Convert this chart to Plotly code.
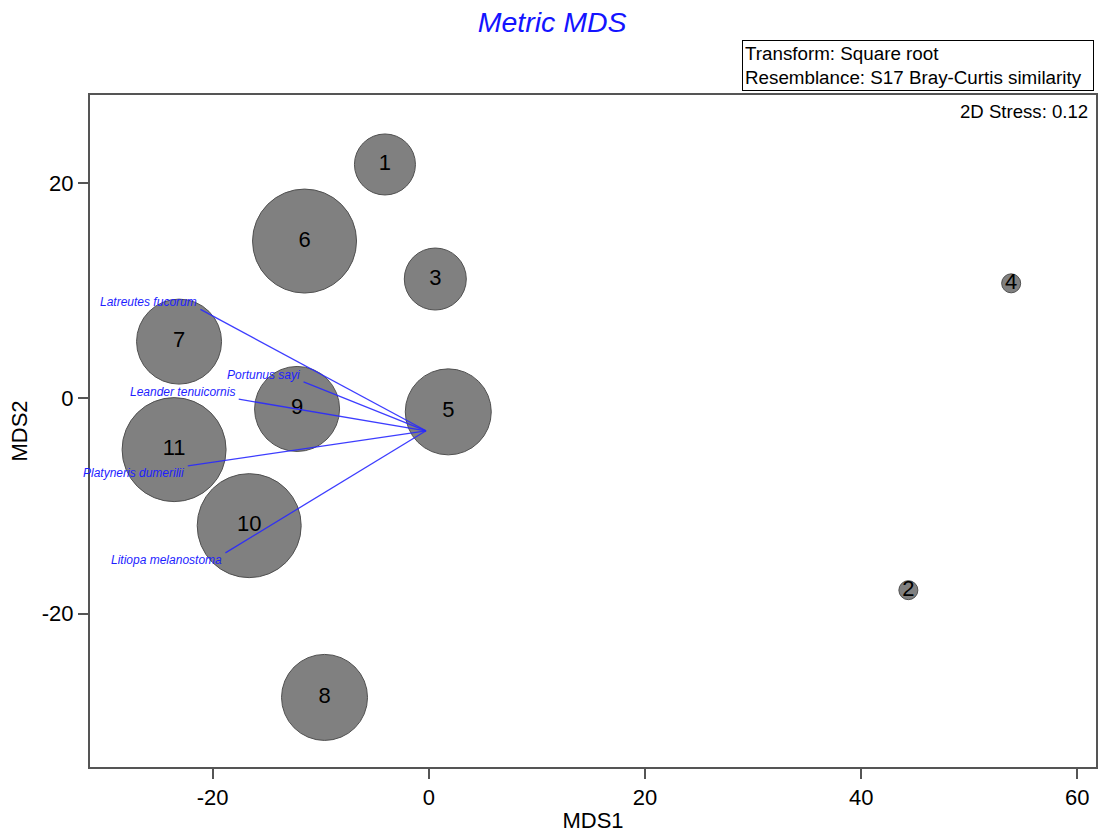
import plotly.graph_objects as go

# Sample scores
samples = ["1", "2", "3", "4", "5", "6", "7", "8", "9", "10", "11"]
mds1 = [-4.06, 44.37, 0.6, 53.88, 1.8, -11.5, -23.11, -9.65, -12.19, -16.62, -23.57]
mds2 = [21.75, -17.83, 11.1, 10.7, -1.25, 14.63, 5.28, -27.8, -0.98, -11.83, -4.76]
bubble_value = [6.1, 1.9, 6.2, 1.9, 8.6, 10.4, 8.5, 8.6, 8.5, 10.4, 10.4]

# Vector overlay
species = ["Latreutes fucorum", "Portunus sayi", "Leander tenuicornis",
           "Platyneris dumerilii", "Litiopa melanostoma"]
vec_origin = [-0.26, -3.01]
vec_x = [-21.13, -11.59, -17.59, -22.3, -18.82]
vec_y = [8.28, 1.54, -0.07, -6.27, -14.36]

x_ticks = [-20, 0, 20, 40, 60]
x_tick_text = ["-20", "0", "20", "40", "60"]
y_ticks = [-20, 0, 20]
y_tick_text = ["-20", "0", "20"]

FONT = "Arial, Liberation Sans, sans-serif"
AX = "rgb(85,85,85)"
fig = go.Figure()

for i, s in enumerate(samples):
    fig.add_trace(go.Scatter(
        x=[mds1[i]], y=[mds2[i]], mode="markers+text", text=[s],
        textposition="middle center",
        textfont=dict(family=FONT, size=22, color="black"),
        marker=dict(size=bubble_value[i] * 10, sizemode="diameter",
                    color="rgb(128,128,128)",
                    line=dict(color="rgb(80,80,80)", width=1)),
        showlegend=False, hoverinfo="skip", cliponaxis=False))

label_shift = [7, 7, 7, -7, -7]
for i, sp in enumerate(species):
    fig.add_trace(go.Scatter(
        x=[vec_origin[0], vec_x[i]], y=[vec_origin[1], vec_y[i]],
        mode="lines", line=dict(color="rgba(40,40,255,0.9)", width=1.3),
        showlegend=False, hoverinfo="skip"))
    fig.add_annotation(x=vec_x[i], y=vec_y[i], text="<i>" + sp + "</i>",
                       showarrow=False, xanchor="right", yanchor="middle",
                       yshift=label_shift[i], xshift=-1.5,
                       font=dict(family=FONT, size=12, color="rgb(30,30,255)"))

fig.add_annotation(xref="paper", yref="paper", x=0.998, y=1.0818,
                   xanchor="right", yanchor="top", align="left", width=346,
                   text="Transform: Square root<br>Resemblance: S17 Bray-Curtis similarity",
                   showarrow=False, bordercolor="black", borderwidth=1, borderpad=2,
                   font=dict(family=FONT, size=18.8, color="black"))
fig.add_annotation(xref="paper", yref="paper", x=0.994, y=0.976,
                   xanchor="right", yanchor="middle", text="2D Stress: 0.12",
                   showarrow=False, font=dict(family=FONT, size=18.6, color="black"))

axis_common = dict(showgrid=False, zeroline=False, showline=True, mirror=True,
                   linecolor=AX, linewidth=2, ticks="outside",
                   ticklen=10, tickwidth=1.5, tickcolor=AX,
                   tickfont=dict(family=FONT, size=22, color="black"),
                   title_font=dict(family=FONT, size=22, color="black"))

fig.update_xaxes(range=[-31.35, 61.73], tickvals=x_ticks, ticktext=x_tick_text,
                 title_text="MDS1", title_standoff=3, **axis_common)
fig.update_yaxes(range=[-34.27, 28.21], tickvals=y_ticks, ticktext=y_tick_text,
                 title_text="MDS2", title_standoff=8, **axis_common)

fig.update_layout(
    width=1100, height=833,
    margin=dict(l=90, r=2, t=95, b=66),
    paper_bgcolor="white", plot_bgcolor="white",
    title=dict(text="<i>Metric MDS</i>", x=0.502, xanchor="center", y=0.974,
               yanchor="middle",
               font=dict(family=FONT, size=28.5, color="rgb(20,20,255)")),
)

fig.write_html(
    "out.html",
    config={"displayModeBar": False},
    post_script="document.body.style.margin='0';document.body.style.overflow='hidden';",
)
